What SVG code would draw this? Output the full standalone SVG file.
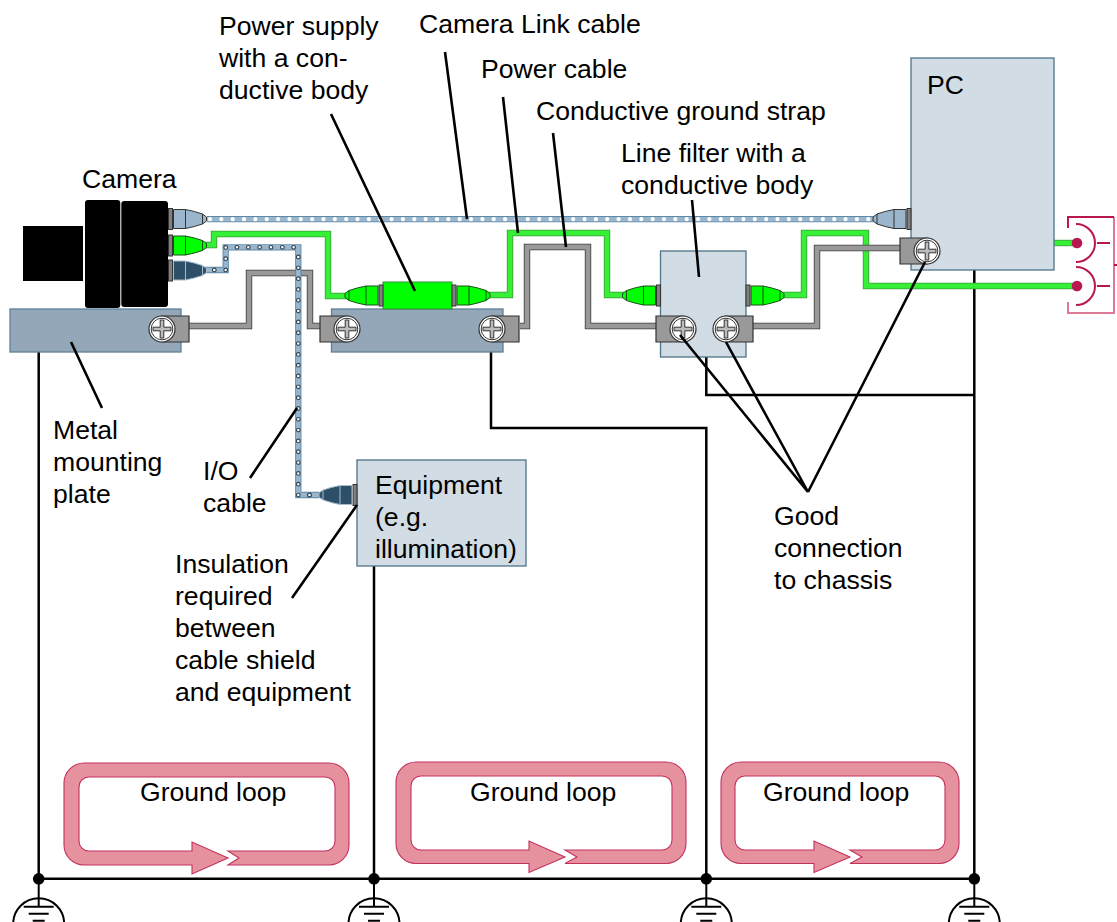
<svg xmlns="http://www.w3.org/2000/svg" width="1117" height="922" viewBox="0 0 1117 922">
<style>
text{font-family:"Liberation Sans",Arial,sans-serif;font-size:26.6px;fill:#000}
.box{fill:#d2dce5;stroke:#4f7388;stroke-width:1.3}
.plate{fill:#93a7b8;stroke:#5e8097;stroke-width:1.3}
.wire{fill:none;stroke:#000;stroke-width:2.5}
.leader{fill:none;stroke:#000;stroke-width:2.6}
.cgO{fill:none;stroke:#3f9a3f;stroke-width:6.4}
.cgI{fill:none;stroke:#35f035;stroke-width:4.8}
.cgrO{fill:none;stroke:#3c3c3c;stroke-width:6.4}
.cgrI{fill:none;stroke:#999;stroke-width:4.8}
.cbO{fill:none;stroke:#5f8aa5;stroke-width:6.3}
.cbI{fill:none;stroke:#9ab6cd;stroke-width:4.4}
.dotW{fill:none;stroke:#fff;stroke-width:4.2;stroke-linecap:round;stroke-dasharray:0 11.35}
.ioD{fill:none;stroke:#33434f;stroke-width:4.8;stroke-linecap:round}
.ioL{fill:none;stroke:#fff;stroke-width:2.5;stroke-linecap:round}
.h{stroke-dasharray:0 11.34}
.v{stroke-dasharray:0 10.82}
.loop{fill:#e5929e;stroke:#c4305c;stroke-width:1.1}
.out{fill:none;stroke:#b8174f;stroke-width:2}
.collar{fill:#808080;stroke:#333;stroke-width:1}
.lug{fill:#999;stroke:#333;stroke-width:1.2}
.plusb{fill:#bbb;stroke:#333;stroke-width:1}
.gnd{fill:none;stroke:#000;stroke-width:2}
</style>
<defs>
<g id="plug">
<rect class="collar" x="0" y="-10.5" width="4" height="21"/>
<path d="M5,-9.500H17Q26,-7.800 34,-5L38,-2V2L34,5Q26,7.800 17,9.500H5Z"/>
<path d="M17,-9.500V9.500M34,-5V5" fill="none"/>
</g>
<g id="screw">
<circle r="13" fill="#fff" stroke="#333" stroke-width="1.2"/>
<circle r="10.8" fill="#fff" stroke="#333" stroke-width="1"/>
<path class="plusb" d="M-1.800,-9H1.800V-1.800H9V1.800H1.800V9H-1.800V1.800H-9V-1.800H-1.800Z"/>
</g>
<g id="lug">
<path class="lug" d="M-27,-13H0A13.2,13.2 0 0 1 0,13H-27Z"/>
<use href="#screw"/>
</g>
<g id="ground">
<circle cx="0" cy="45" r="25.5" class="gnd"/>
<path d="M0,0V28" class="gnd"/>
<path d="M-15,28H15M-10,35H10M-6,42H6" class="gnd"/>
<circle cx="0" cy="0" r="5.800" fill="#000"/>
</g>
</defs>
<rect width="1117" height="922" fill="#fff"/>

<g id="connectors">
<path class="wire" d="M38.700,352V878.800M374,566V878.800M491,352V428H706.300V878.800M706.300,357V395H974.300M974.300,270V878.800M38.700,878.800H974.300"/>
<path class="cgrO" d="M189,326H249V273H310V326H325"/>
<path class="cgrI" d="M189,326H249V273H310V326H325"/>
<path class="cgrO" d="M520,326H527V247H588V326H660"/>
<path class="cgrI" d="M520,326H527V247H588V326H660"/>
<path class="cgO" d="M205,245H214V234H328V296H347"/>
<path class="cgI" d="M205,245H214V234H328V296H347"/>
<path class="cgO" d="M488,295H510V233H607V295H624"/>
<path class="cgI" d="M488,295H510V233H607V295H624"/>
<path class="cgO" d="M783,295H804V233H866V286H1073"/>
<path class="cgI" d="M783,295H804V233H866V286H1073"/>
<path class="cgrO" d="M753,326H817V248H905"/>
<path class="cgrI" d="M753,326H817V248H905"/>
<path class="cgO" d="M1054,243H1073"/>
<path class="cgI" d="M1054,243H1073"/>
<path class="cbO" d="M207,219.200H873"/>
<path class="cbI" d="M207,219.200H873"/>
<path class="dotW" d="M210,219.200H873"/>
<path class="cbO" d="M205,270H225.700V247.300H298.300V495H322"/>
<path class="cbI" d="M205,270H225.700V247.300H298.300V495H322"/>
<path class="ioD h" d="M214.300,270H225.700V247.300H294.500"/>
<path class="ioL h" d="M214.300,270H225.700V247.300H294.500"/>
<path class="ioD v" d="M298.300,257V495.100"/>
<path class="ioL v" d="M298.300,257V495.100"/>
<circle cx="309.500" cy="495" r="1.900" fill="#fff" stroke="#33434f" stroke-width="1.200"/>
</g>

<g id="camera">
<rect x="23" y="226" width="60" height="55" fill="#000"/>
<rect x="85" y="200" width="35.300" height="108" rx="3" fill="#000"/>
<rect x="121.300" y="201" width="46.700" height="106" rx="3" fill="#000"/>
<use href="#plug" transform="translate(168.500,219)" fill="#9ab5cc" stroke="#333" stroke-width="1"/>
<use href="#plug" transform="translate(168.500,245.500)" fill="#00ff00" stroke="#1b4d1b" stroke-width="1"/>
<use href="#plug" transform="translate(168.500,270.500)" fill="#2d5068" stroke="#a8bccb" stroke-width="1"/>
<text x="82" y="188">Camera</text>
</g>

<g id="plate-1">
<rect class="plate" x="10" y="309" width="171" height="43"/>
<use href="#lug" transform="translate(162,329) scale(-1,1)"/>
</g>

<g id="plate-2">
<rect class="plate" x="331.500" y="309" width="171.500" height="43"/>
<use href="#lug" transform="translate(347,329)"/>
<use href="#lug" transform="translate(492,329) scale(-1,1)"/>
</g>

<g id="power-supply">
<rect x="383" y="282" width="69" height="27" fill="#00ff00" stroke="#3a8a3a" stroke-width="1"/>
<use href="#plug" transform="translate(383,295.500) scale(-1,1)" fill="#00ff00" stroke="#1b4d1b" stroke-width="1"/>
<use href="#plug" transform="translate(452,295.500)" fill="#00ff00" stroke="#1b4d1b" stroke-width="1"/>
</g>

<g id="line-filter">
<rect class="box" x="660.500" y="251" width="85.500" height="106"/>
<use href="#plug" transform="translate(660.500,295.500) scale(-1,1)" fill="#00ff00" stroke="#1b4d1b" stroke-width="1"/>
<use href="#plug" transform="translate(746,295.500)" fill="#00ff00" stroke="#1b4d1b" stroke-width="1"/>
<use href="#lug" transform="translate(683,329)"/>
<use href="#lug" transform="translate(726,329) scale(-1,1)"/>
</g>

<g id="pc">
<rect class="box" x="911" y="58" width="143" height="212"/>
<use href="#plug" transform="translate(911,219) scale(-1,1)" fill="#9ab5cc" stroke="#333" stroke-width="1"/>
<use href="#lug" transform="translate(927,251)"/>
<text x="927" y="94">PC</text>
</g>

<g id="equipment">
<rect class="box" x="357" y="460" width="169" height="106"/>
<use href="#plug" transform="translate(357,495) scale(-1,1)" fill="#2d5068" stroke="#a8bccb" stroke-width="1"/>
<text x="375" y="494">Equipment</text>
<text x="375" y="526">(e.g.</text>
<text x="375" y="558">illumination)</text>
</g>

<g id="outlet">
<path d="M1068,302V313H1114V217" fill="none" stroke="#dd7a95" stroke-width="2"/>
<path class="out" d="M1068,228V217H1114M1114,265H1117"/>
<path class="out" d="M1076,224A19,19 0 0 1 1076,262M1097,243H1110M1076,267A19,19 0 0 1 1076,305M1097,286H1110"/>
<circle cx="1077" cy="243" r="5.300" fill="#b8174f"/>
<circle cx="1077" cy="286" r="5.300" fill="#b8174f"/>
</g>

<g id="ground-1"><use href="#ground" transform="translate(38.700,878.800)"/></g>
<g id="ground-2"><use href="#ground" transform="translate(374,878.800)"/></g>
<g id="ground-3"><use href="#ground" transform="translate(706.300,878.800)"/></g>
<g id="ground-4"><use href="#ground" transform="translate(974.300,878.800)"/></g>

<g id="loop-1">
<path class="loop" d="M228,851H325A10,10 0 0 0 335,841V787A10,10 0 0 0 325,777H89A10,10 0 0 0 79,787V841A10,10 0 0 0 89,851H192V842L228,858L192,874V865H84A20,20 0 0 1 64,845V783A20,20 0 0 1 84,763H329A20,20 0 0 1 349,783V845A20,20 0 0 1 329,865H228L239,858Z"/>
<text x="140" y="801">Ground loop</text>
</g>
<g id="loop-2">
<path class="loop" d="M565,850H662A10,10 0 0 0 672,840V786A10,10 0 0 0 662,776H421A10,10 0 0 0 411,786V840A10,10 0 0 0 421,850H529V841L565,857L529,872.500V863.500H416A20,20 0 0 1 396,843.500V782A20,20 0 0 1 416,762H666A20,20 0 0 1 686,782V843.500A20,20 0 0 1 666,863.500H565L577,857Z"/>
<text x="470" y="801">Ground loop</text>
</g>
<g id="loop-3">
<path class="loop" d="M850,850H935A10,10 0 0 0 945,840V786A10,10 0 0 0 935,776H745A10,10 0 0 0 735,786V840A10,10 0 0 0 745,850H814V841L850,857L814,872.500V863.500H741A20,20 0 0 1 721,843.500V782A20,20 0 0 1 741,762H939A20,20 0 0 1 959,782V843.500A20,20 0 0 1 939,863.500H850L862,857Z"/>
<text x="763" y="801">Ground loop</text>
</g>

<g id="leaders">
<path class="leader" d="M331,114L415,291M445,52L467,219M503,97L518,233M553,133L566,247M692,200L699,277M71,342L102,408M250,478L297,408M292,598L357,505M808,492L680,335M808,492L726,342M808,492L925,262"/>
</g>

<g id="labels">
<text x="219" y="35">Power supply</text>
<text x="219" y="67">with a con-</text>
<text x="219" y="99">ductive body</text>
<text x="419" y="33">Camera Link cable</text>
<text x="481" y="78">Power cable</text>
<text x="536" y="120">Conductive ground strap</text>
<text x="621" y="162">Line filter with a</text>
<text x="621" y="194">conductive body</text>
<text x="53" y="439">Metal</text>
<text x="53" y="471">mounting</text>
<text x="53" y="503">plate</text>
<text x="203" y="480">I/O</text>
<text x="203" y="512">cable</text>
<text x="175" y="573">Insulation</text>
<text x="175" y="605">required</text>
<text x="175" y="637">between</text>
<text x="175" y="669">cable shield</text>
<text x="175" y="701">and equipment</text>
<text x="774" y="525">Good</text>
<text x="774" y="557">connection</text>
<text x="774" y="589">to chassis</text>
</g>
</svg>
